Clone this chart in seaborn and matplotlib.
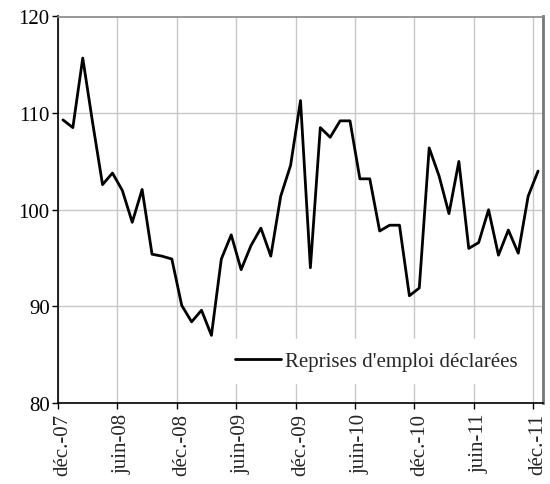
import matplotlib
matplotlib.use("Agg")
import matplotlib.pyplot as plt
import seaborn as sns
import pandas as pd
import numpy as np

months = ["déc.-07","janv.-08","févr.-08","mars-08","avr.-08","mai-08","juin-08","juil.-08","août-08","sept.-08","oct.-08","nov.-08",
          "déc.-08","janv.-09","févr.-09","mars-09","avr.-09","mai-09","juin-09","juil.-09","août-09","sept.-09","oct.-09","nov.-09",
          "déc.-09","janv.-10","févr.-10","mars-10","avr.-10","mai-10","juin-10","juil.-10","août-10","sept.-10","oct.-10","nov.-10",
          "déc.-10","janv.-11","févr.-11","mars-11","avr.-11","mai-11","juin-11","juil.-11","août-11","sept.-11","oct.-11","nov.-11",
          "déc.-11"]
values = [109.3, 108.5, 115.7, 109.0, 102.6, 103.8, 102.0, 98.7, 102.1, 95.4, 95.2, 94.9,
          90.1, 88.4, 89.6, 87.0, 94.9, 97.4, 93.8, 96.3, 98.1, 95.2, 101.4, 104.6,
          111.3, 94.0, 108.5, 107.5, 109.2, 109.2, 103.2, 103.2, 97.8, 98.4, 98.4, 91.1,
          91.9, 106.4, 103.5, 99.6, 105.0, 96.0, 96.6, 100.0, 95.3, 97.9, 95.5, 101.4,
          104.0]
series_name = "Reprises d'emploi déclarées"
tick_labels = ["déc.-07","juin-08","déc.-08","juin-09","déc.-09","juin-10","déc.-10","juin-11","déc.-11"]

sns.set_style("white")
plt.rcParams['font.family'] = ['Liberation Serif', 'DejaVu Serif']

df = pd.DataFrame({"pos": np.arange(len(values)) + 0.5, "val": values, "mois": months})

fig = plt.figure(figsize=(5.5, 4.85), dpi=100)
ax = fig.add_axes([58/550, 1 - 404/485, (543-58)/550, (404-17.5)/485])
sns.lineplot(data=df, x="pos", y="val", ax=ax, color="black", linewidth=2, label=series_name)

ax.set_xlim(0, len(values))
ax.set_ylim(80, 120)
ax.set_yticks([80, 90, 100, 110, 120])
tick_pos = [months.index(t) for t in tick_labels]
ax.set_xticks(tick_pos)
ax.set_xticklabels([])
ax.set_xticks([p + 0.5 for p in tick_pos], minor=True)
ax.set_xticklabels(tick_labels, rotation=90, minor=True)
ax.set_xlabel("")
ax.set_ylabel("")
ax.grid(True, which="major", color="#c8c8c8", linewidth=1)
ax.tick_params(axis="both", which="major", labelsize=15, length=4, width=1, direction="out", colors="black", pad=2)
ax.tick_params(axis="x", which="minor", labelsize=15, length=0, pad=7, bottom=True)
ax.tick_params(axis="x", which="major", bottom=True)
ax.tick_params(axis="y", left=True)
for s in ["left", "bottom"]:
    ax.spines[s].set_color("black")
    ax.spines[s].set_linewidth(1.2)
ax.spines["top"].set_color("#888888")
ax.spines["top"].set_linewidth(1.2)
ax.spines["right"].set_color("#777777")
ax.spines["right"].set_linewidth(2)

leg = ax.legend(loc="center", bbox_to_anchor=((376-58)/485, (404-362)/386.5), frameon=True,
                fontsize=15, handlelength=2.2, handletextpad=0.2, borderpad=0.6)
leg.get_frame().set_facecolor("white")
leg.get_frame().set_edgecolor("white")
leg.get_frame().set_alpha(1)

fig.savefig("out.png", dpi=100)
